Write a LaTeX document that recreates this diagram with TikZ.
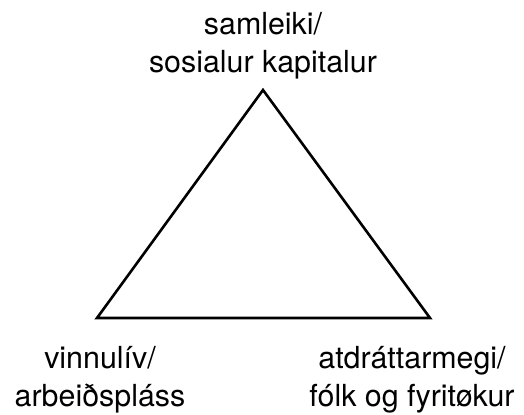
\documentclass[tikz,border=0pt]{standalone}
\usepackage{fontspec}
\setmainfont{TeX Gyre Heros}
\usetikzlibrary{positioning}

\tikzset{corner label/.style={font=\fontsize{30.5}{38}\selectfont,align=center,inner sep=0pt}}

\begin{document}
\begin{tikzpicture}[x=1bp,y=1bp]
\useasboundingbox (0,0) rectangle (524,414);
% corners of the triangle
\coordinate (top) at (263,324);
\coordinate (left) at (97,96);
\coordinate (right) at (430,96);
\draw[line width=2.6bp] (top) -- (left) -- (right) -- cycle;
% labels
\node[corner label,below=28bp of left,xshift=3bp] (vinnuliv) {vinnulív/\\arbeiðspláss};
\node[corner label,below=28bp of right,xshift=-18bp] (atdrattarmegi) {atdráttarmegi/\\fólk og fyritøkur};
\node[corner label,above=11bp of top] (samleiki) {samleiki/\\sosialur kapitalur};
\end{tikzpicture}
\end{document}
